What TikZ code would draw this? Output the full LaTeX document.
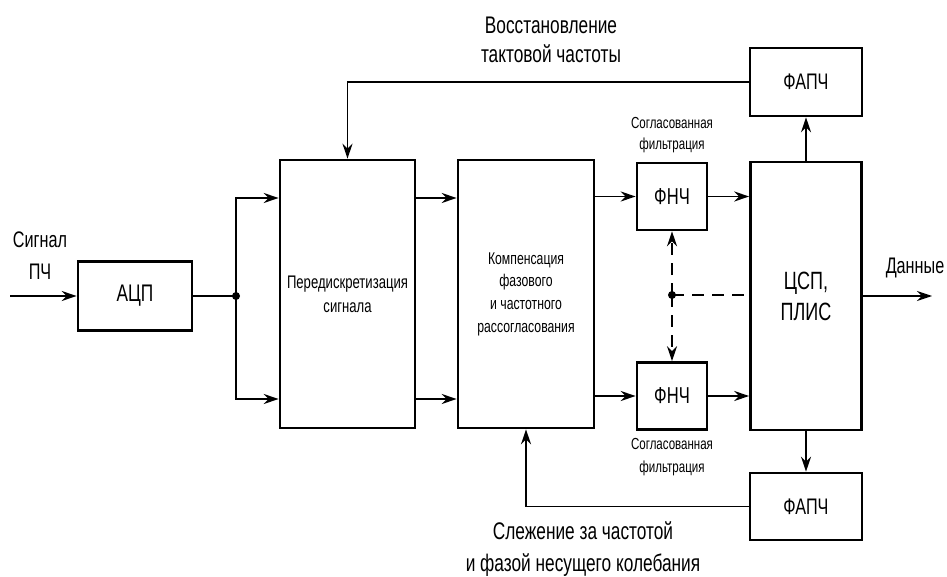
\documentclass[tikz,border=0pt]{standalone}
\usepackage{fontspec}
\setmainfont{Liberation Sans}[FakeStretch=0.72]
\usetikzlibrary{arrows.meta,calc}
\tikzset{
  blk/.style={draw, line width=2.6pt, minimum width=#1, inner sep=0pt, align=center},
  conn/.style={line width=1.6pt, -{Stealth[length=15pt,width=10pt,inset=5pt]}},
  plain/.style={line width=1.6pt},
  dsh/.style={line width=1.6pt, dash pattern=on 12pt off 8pt},
  lbl/.style={align=center, inner sep=0pt}
}
\begin{document}
\begin{tikzpicture}[x=1pt,y=-1pt]
\useasboundingbox (0,0) rectangle (947,577);
% blocks
\node[blk=114pt, minimum height=69pt, font=\fontsize{24}{27}\selectfont] (adc) at (135,296) {АЦП};
\node[blk=135pt, minimum height=268pt, font=\fontsize{18.2}{24}\selectfont] (pre) at (347.5,294) {Передискретизация\\сигнала};
\node[blk=136pt, minimum height=268pt, font=\fontsize{17}{22.7}\selectfont] (comp) at (526,294) {Компенсация\\фазового\\и частотного\\рассогласования};
\node[blk=70pt, minimum height=67pt, font=\fontsize{23}{27}\selectfont] (f1) at (672,196.5) {ФНЧ};
\node[blk=70pt, minimum height=67pt, font=\fontsize{23}{27}\selectfont] (f2) at (672,396) {ФНЧ};
\node[blk=111pt, minimum height=268pt, font=\fontsize{25}{31}\selectfont] (dsp) at (806,296) {ЦСП,\\ПЛИС};
\node[blk=112pt, minimum height=68pt, font=\fontsize{22.5}{27}\selectfont] (p1) at (806,82) {ФАПЧ};
\node[blk=112pt, minimum height=67pt, font=\fontsize{22.5}{27}\selectfont] (p2) at (806,506.5) {ФАПЧ};
% labels
\node[lbl, font=\fontsize{22.5}{32}\selectfont] (lin) at (40,256) {Сигнал\\ПЧ};
\node[lbl, font=\fontsize{22.5}{27}\selectfont] (lout) at (915,268) {Данные};
\node[lbl, font=\fontsize{16}{21.5}\selectfont] (lf1) at (672,135) {Согласованная\\фильтрация};
\node[lbl, font=\fontsize{16}{22.5}\selectfont] (lf2) at (672,457) {Согласованная\\фильтрация};
\node[lbl, font=\fontsize{24}{29}\selectfont] (ltop) at (551,40) {Восстановление\\тактовой частоты};
\node[lbl, font=\fontsize{24}{32}\selectfont] (lbot) at (583,549) {Слежение за частотой\\и фазой несущего колебания};
% coordinates
\coordinate (in) at (10,296);
\coordinate (out) at (932,296);
\coordinate (J) at (236,296);
\coordinate (Ju) at (236,198);
\coordinate (Jd) at (236,399);
\coordinate (D) at (672,295);
% connectors
\draw[conn] (in) -- (adc.west);
\draw[plain] (adc.east) -- (J);
\fill (J) circle (4pt);
\draw[conn] (J) -- (Ju) -- (Ju -| pre.west);
\draw[conn] (J) -- (Jd) -- (Jd -| pre.west);
\draw[conn] (Ju -| pre.east) -- (Ju -| comp.west);
\draw[conn] (Jd -| pre.east) -- (Jd -| comp.west);
\draw[conn] (comp.east |- f1.west) -- (f1.west);
\draw[conn] (comp.east |- f2.west) -- (f2.west);
\draw[conn] (f1.east) -- (f1.east -| dsp.west);
\draw[conn] (f2.east) -- (f2.east -| dsp.west);
\draw[conn] (dsp.east) -- (out);
\draw[conn] (dsp.north) -- (p1.south);
\draw[conn] (dsp.south) -- (p2.north);
\draw[conn] (p1.west) -| (pre.north);
\draw[conn] (p2.west) -| (comp.south);
% dashed
\fill (D) circle (4pt);
\draw[dsh] (D) -- (D -| dsp.west);
\draw[dsh, -{Stealth[length=15pt,width=10pt,inset=5pt]}] (D) -- (f1.south);
\draw[dsh, -{Stealth[length=15pt,width=10pt,inset=5pt]}] (D) -- (f2.north);
\end{tikzpicture}
\end{document}
